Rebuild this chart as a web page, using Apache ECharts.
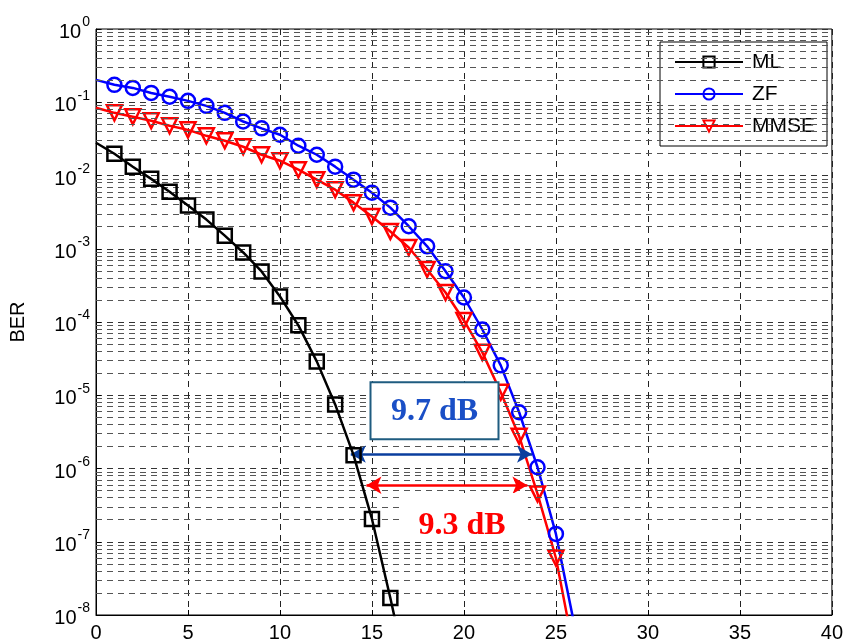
<!DOCTYPE html>
<html>
<head>
<meta charset="utf-8">
<script src="https://cdn.jsdelivr.net/npm/echarts@6/dist/echarts.min.js"></script>
<style>
  html, body { margin: 0; padding: 0; background: #fff; }
  #chart { width: 846px; height: 643px; }
</style>
</head>
<body>
<div id="chart"></div>
<script>
// SNR in dB (markers at 1..N, first point drawn as plain line start)
const snr = [0, 1, 2, 3, 4, 5, 6, 7, 8, 9, 10, 11, 12, 13, 14, 15, 16, 17, 18, 19, 20, 21, 22, 23, 24, 25, 26];
const berML = [2.8e-2, 1.98e-2, 1.32e-2, 9.0e-3, 6.0e-3, 3.88e-3, 2.5e-3, 1.51e-3, 8.9e-4, 4.9e-4, 2.23e-4,
  9.0e-5, 2.9e-5, 7.5e-6, 1.52e-6, 2.05e-7, 1.71e-8, 1.2e-9];
const berZF = [0.202, 0.173, 0.157, 0.134, 0.119, 0.1045, 0.0893, 0.0717, 0.0546, 0.044, 0.036, 0.0255,
  0.0192, 0.0132, 0.00877, 0.00583, 0.00364, 0.00203, 0.00108, 4.93e-4, 2.16e-4, 7.9e-5, 2.56e-5,
  5.86e-6, 1.04e-6, 1.28e-7, 7.4e-9];
const berMMSE = [0.084, 0.0717, 0.0633, 0.0558, 0.0477, 0.042, 0.0348, 0.0298, 0.0247, 0.0192, 0.0159,
  0.012, 0.00877, 0.00641, 0.00426, 0.00275, 0.00172, 0.00104, 5.2e-4, 2.53e-4, 1.05e-4, 3.85e-5,
  1.1e-5, 2.76e-6, 4.5e-7, 6.0e-8, 3e-9];
const xTicks = [0, 40, 5];           // min, max, step
const decades = [-8, -7, -6, -5, -4, -3, -2, -1];
// annotation: gap arrows [x1, x2, ber]
const gapZF = [13.85, 23.7, 1.57e-6];
const gapMMSE = [14.7, 23.45, 5.9e-7];

const font = "'Liberation Sans', Arial, sans-serif";
const serif = "'Liberation Serif', 'Times New Roman', serif";

// build series data: first and last points have no marker
const toData = (vals) => vals.map((v, i) => {
  const item = { value: [snr[i], v] };
  if (i === 0 || i === vals.length - 1) item.symbol = 'none';
  return item;
});

// minor log grid lines 2..9 x 10^k, across the full x range
const minorLines = [];
decades.forEach(k => {
  for (let m = 2; m <= 9; m++) {
    const v = m * Math.pow(10, k);
    minorLines.push([{ coord: [xTicks[0], v] }, { coord: [xTicks[1], v] }]);
  }
});

const chart = echarts.init(document.getElementById('chart'));

const option = {
  animation: false,
  backgroundColor: '#fff',
  grid: {
    left: 93, right: 10, top: 29, bottom: 27,
    show: true, borderColor: '#000', borderWidth: 1
  },
  legend: {
    orient: 'vertical',
    left: 660, top: 42,
    padding: [9, 12, 9, 14],
    itemWidth: 68, itemHeight: 14, itemGap: 10,
    borderColor: '#000', borderWidth: 1, backgroundColor: '#fff',
    textStyle: { fontSize: 21, fontFamily: font, color: '#000', lineHeight: 22, padding: [0, 0, 0, 4] },
    data: ['ML', 'ZF', 'MMSE']
  },
  xAxis: {
    type: 'value',
    min: xTicks[0], max: xTicks[1], interval: xTicks[2],
    axisLine: { lineStyle: { color: '#000' } },
    axisTick: { inside: true, length: 5, lineStyle: { color: '#000' } },
    axisLabel: { fontSize: 20, fontFamily: font, color: '#000', margin: 8 },
    splitLine: { show: true, lineStyle: { color: '#222', type: [6, 5], width: 1 } }
  },
  yAxis: {
    type: 'log',
    logBase: 10,
    min: 1e-8, max: 1,
    name: 'BER',
    nameLocation: 'middle',
    nameGap: 68,
    nameTextStyle: { fontSize: 20, fontFamily: font, color: '#000' },
    axisLine: { lineStyle: { color: '#000' } },
    axisTick: { inside: true, length: 5, lineStyle: { color: '#000' } },
    axisLabel: {
      color: '#000', margin: 6,
      formatter: v => '{b|10}{e|' + Math.round(Math.log10(v)) + '}',
      rich: {
        b: { fontSize: 20, fontFamily: font, color: '#000', verticalAlign: 'bottom' },
        e: { fontSize: 14, fontFamily: font, color: '#000', verticalAlign: 'bottom', padding: [0, 0, 13, 1] }
      }
    },
    splitLine: { show: true, lineStyle: { color: '#333', type: [6, 5], width: 1 } }
  },
  series: [
    {
      name: 'ML', type: 'line', data: toData(berML),
      symbol: 'rect', symbolSize: 14,
      lineStyle: { color: '#000', width: 2.5 },
      itemStyle: { color: 'rgba(255,255,255,0)', borderColor: '#000', borderWidth: 2.5 },
      z: 5,
      markLine: {
        silent: true, symbol: 'none', animation: false,
        label: { show: false },
        lineStyle: { color: '#555', type: [6, 5], width: 1 },
        data: minorLines
      }
    },
    {
      name: 'ZF', type: 'line', data: toData(berZF),
      symbol: 'circle', symbolSize: 14,
      lineStyle: { color: '#0000ff', width: 2.5 },
      itemStyle: { color: 'rgba(255,255,255,0)', borderColor: '#0000ff', borderWidth: 2.5 },
      z: 4,
      markLine: {
        silent: true, symbol: ['arrow', 'arrow'], symbolSize: [13, 15], animation: false,
        label: { show: false },
        lineStyle: { color: '#0a3e9e', type: 'solid', width: 2.5 },
        data: [[{ coord: [gapZF[0], gapZF[2]] }, { coord: [gapZF[1], gapZF[2]] }]]
      }
    },
    {
      name: 'MMSE', type: 'line', data: toData(berMMSE),
      symbol: 'triangle', symbolRotate: 180, symbolSize: 15,
      lineStyle: { color: '#ff0000', width: 2.5 },
      itemStyle: { color: 'rgba(255,255,255,0)', borderColor: '#ff0000', borderWidth: 2.5 },
      z: 4,
      markLine: {
        silent: true, symbol: ['arrow', 'arrow'], symbolSize: [13, 15], animation: false,
        label: { show: false },
        lineStyle: { color: '#ff0000', type: 'solid', width: 2.5 },
        data: [[{ coord: [gapMMSE[0], gapMMSE[2]] }, { coord: [gapMMSE[1], gapMMSE[2]] }]]
      }
    }
  ]
};

chart.setOption(option);

// text boxes placed in data coordinates
const p97 = chart.convertToPixel({ gridIndex: 0 }, [18.4, 6.05e-6]);
const p93 = chart.convertToPixel({ gridIndex: 0 }, [20.0, 2.18e-7]);
const t93 = chart.convertToPixel({ gridIndex: 0 }, [19.9, 1.64e-7]);
chart.setOption({
  graphic: [
    {
      type: 'rect', z: 50,
      shape: { x: p97[0] - 64, y: p97[1] - 29, width: 128, height: 57 },
      style: { fill: '#fff', stroke: '#1f5c80', lineWidth: 2 }
    },
    {
      type: 'text', z: 51, x: p97[0], y: p97[1],
      style: {
        text: '9.7 dB', fill: '#1a4fc6', font: 'bold 32px ' + serif,
        align: 'center', verticalAlign: 'middle'
      }
    },
    {
      type: 'rect', z: 50,
      shape: { x: p93[0] - 64, y: p93[1] - 24, width: 128, height: 49 },
      style: { fill: '#fff' }
    },
    {
      type: 'text', z: 51, x: t93[0], y: t93[1],
      style: {
        text: '9.3 dB', fill: '#ff0000', font: 'bold 32px ' + serif,
        align: 'center', verticalAlign: 'middle'
      }
    }
  ]
});
</script>
</body>
</html>
